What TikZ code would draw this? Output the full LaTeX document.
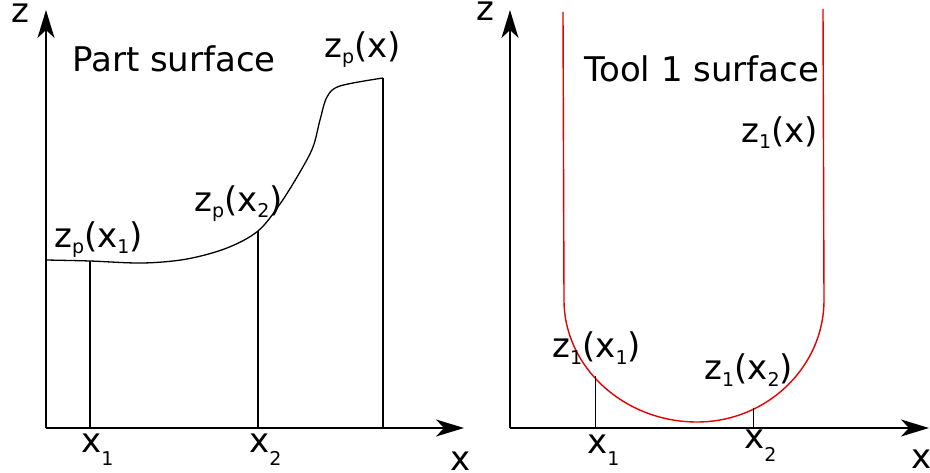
\documentclass[tikz,border=0pt]{standalone}
\usepackage{fontspec}
\setmainfont{DejaVu Sans}
\usetikzlibrary{arrows.meta}
\newcommand\lowsub[2][6pt]{\raisebox{-#1}{\fontsize{19}{20}\selectfont #2}}
\begin{document}
\begin{tikzpicture}[x=1pt,y=-1pt,
  axis/.style={line width=1.8pt,-{Stealth[length=28pt,width=17pt,inset=8pt]}},
  thin line/.style={line width=1.3pt},
  redline/.style={line width=1.4pt,draw={rgb,255:red,228;green,0;blue,0}},
  lbl/.style={inner sep=0pt,anchor=base west,font=\fontsize{34}{40}\selectfont}]
\useasboundingbox (0,0) rectangle (930,473);
% ---------- left panel ----------
\coordinate (O1) at (46,428);
\coordinate (Z1) at (46,10);
\coordinate (X1) at (464,428);
\draw[axis] (O1) -- (Z1);
\draw[axis] (O1) -- (X1);
\node[lbl] (zl) at (11,23) {z};
\node[lbl] (xl) at (450,470) {x};
\node[lbl] (ps) at (72,72) {Part surface};
\coordinate (c0) at (46,260);
\coordinate (c1) at (90,261);
\coordinate (c2) at (258,231);
\coordinate (c3) at (383,78);
\draw[thin line] plot[smooth,tension=0.55] coordinates {(46,260) (90,261) (143,263) (187,259) (227,248) (258,231) (280,204) (300,172) (313,147) (320,120) (327,97) (340,86) (383,78)};
\coordinate (b1) at (90,428);
\coordinate (b2) at (258,428);
\coordinate (b3) at (383,428);
\draw[thin line] (c1) -- (b1);
\draw[thin line] (c2) -- (b2);
\draw[thin line] (c3) -- (b3);
\node[lbl] (zp1) at (54,248) {z\lowsub{p}(x\lowsub{1})};
\node[lbl] (zp2) at (194,212) {z\lowsub{p}(x\lowsub{2})};
\node[lbl] (zp) at (324,58) {z\lowsub{p}(x)};
\node[lbl] (xa) at (81,452) {x\lowsub[13pt]{1}};
\node[lbl] (xb) at (249,452) {x\lowsub[13pt]{2}};
% ---------- right panel ----------
\coordinate (O2) at (510,428);
\coordinate (Z2) at (510,10);
\coordinate (X2) at (929,428);
\draw[axis] (O2) -- (Z2);
\draw[axis] (O2) -- (X2);
\node[lbl] (zr) at (476,21) {z};
\node[lbl] (xr) at (911,468) {x};
\node[lbl] (ts) at (584,82) {Tool 1 surface};
\node[lbl] (z1x) at (741,143) {z\lowsub{1}(x)};
\draw[redline] (563,12) -- (564,300)
  .. controls (564,367) and (624,422) .. (697,422)
  .. controls (767,422) and (824,367) .. (824,300)
  -- (823,9);
\coordinate (t1) at (595,376);
\coordinate (t2) at (753,408);
\coordinate (u1) at (595,428);
\coordinate (u2) at (753,428);
\draw[line width=1pt] (t1) -- (u1);
\draw[line width=1pt] (t2) -- (u2);
\node[lbl] (z11) at (552,358) {z\lowsub{1}(x\lowsub{1})};
\node[lbl] (z12) at (704,380) {z\lowsub{1}(x\lowsub{2})};
\node[lbl] (xc) at (587,453) {x\lowsub[13pt]{1}};
\node[lbl] (xd) at (744,448) {x\lowsub[13pt]{2}};
\end{tikzpicture}
\end{document}
